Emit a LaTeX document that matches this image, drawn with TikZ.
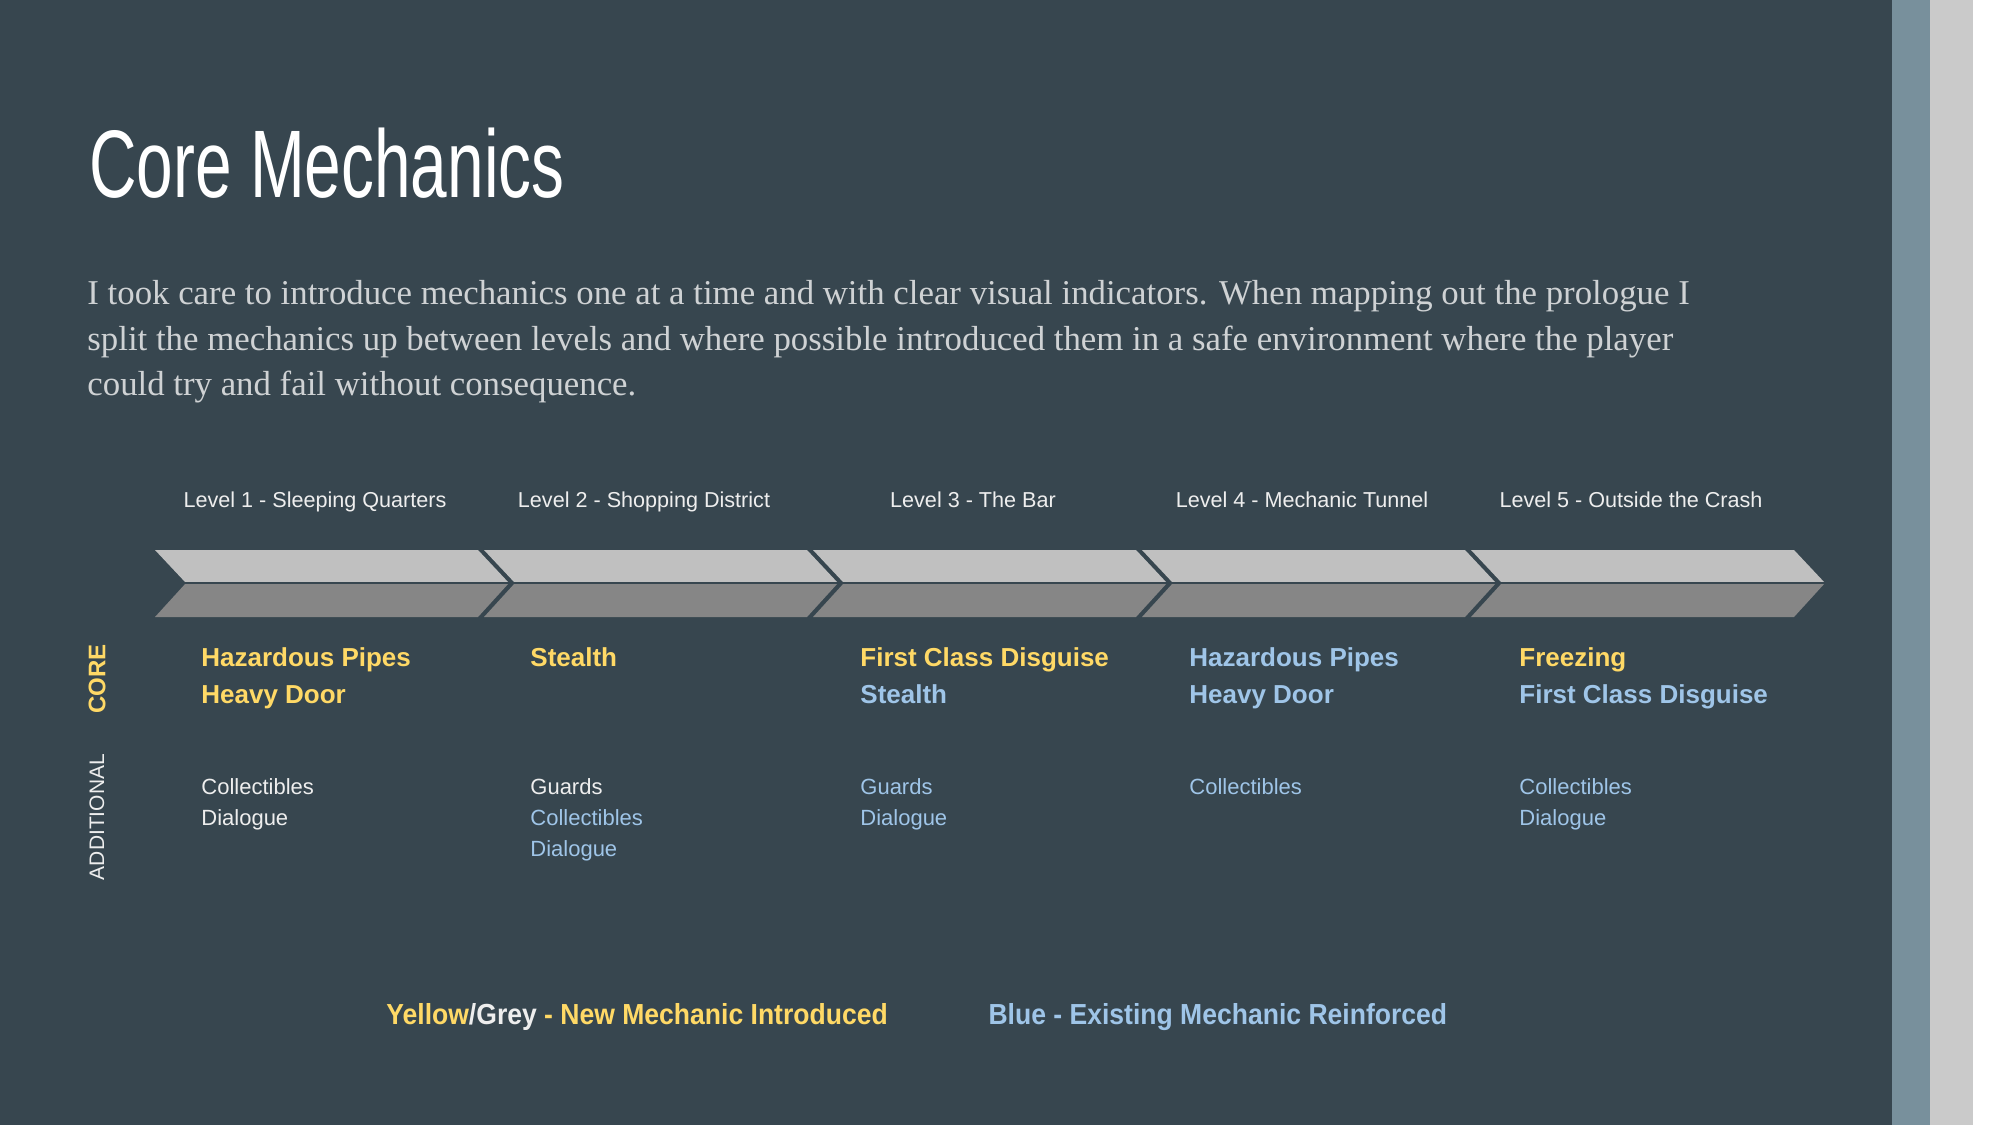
\documentclass[tikz,border=0pt]{standalone}
\usepackage{fontspec}
\setmainfont{Liberation Sans}
\newfontfamily\titlefont[FakeStretch=0.685]{Liberation Sans}
\newfontfamily\bodyfont{Liberation Serif}
\newfontfamily\legendfont[FakeStretch=0.915]{Liberation Sans}
\usetikzlibrary{positioning}

\definecolor{slate}{HTML}{37464F}
\definecolor{stripblue}{HTML}{78909C}
\definecolor{stripgrey}{HTML}{CACACA}
\definecolor{chevtop}{HTML}{C0C0C0}
\definecolor{chevbot}{HTML}{868686}
\definecolor{newyellow}{HTML}{FFD966}
\definecolor{oldblue}{HTML}{9FC5E8}
\definecolor{textgrey}{HTML}{EEEEEE}
\definecolor{bodygrey}{HTML}{CFD2D4}

\begin{document}
\begin{tikzpicture}[x=0.5pt,y=-0.5pt,
    levellabel/.style={text=textgrey,inner sep=0,anchor=base,font=\fontsize{10.8}{13}\selectfont},
    corelist/.style={text=newyellow,inner sep=0,anchor=north west,align=left,font=\fontsize{13}{18.5}\selectfont\bfseries},
    extralist/.style={text=textgrey,inner sep=0,anchor=north west,align=left,font=\fontsize{11}{15.5}\selectfont},
    sidelabel/.style={rotate=90,inner sep=0}]
  \useasboundingbox (0,0) rectangle (2000,1125);
  % slide background and the two strips at the right edge
  \fill[white] (0,0) rectangle (2000,1125);
  \fill[slate] (0,0) rectangle (1892,1125);
  \fill[stripblue] (1892,0) rectangle (1930,1125);
  \fill[stripgrey] (1930,0) rectangle (1973,1125);

  \node[text=white,inner sep=0,anchor=base west,font=\titlefont\fontsize{48}{50}\selectfont] (title) at (89,197) {Core Mechanics};
  \node[text=bodygrey,inner sep=0,anchor=north west,align=left,font=\bodyfont\fontsize{17.4}{22.75}\selectfont] (intro) at (87,280)
    {I took care to introduce mechanics one at a time and with clear visual indicators. When mapping out the prologue I\\
     split the mechanics up between levels and where possible introduced them in a safe environment where the player\\
     could try and fail without consequence.};

  % timeline: five chevrons, light upper half and dark lower half
  \foreach \i in {0,...,4} {
    \pgfmathsetmacro{\xa}{155+329*\i}
    \pgfmathsetmacro{\xb}{\xa+323}
    \fill[chevtop] (\xa,550) -- (\xb,550) -- (\xb+31,583) -- (\xa+31,583) -- cycle;
    \fill[chevbot] (\xa+31,583) -- (\xb+31,583) -- (\xb,617) -- (\xa,617) -- cycle;
  }
  \draw[slate,line width=0.8pt] (150,583) -- (1830,583);

  \foreach \i/\name in {1/Sleeping Quarters,2/Shopping District,3/The Bar,4/Mechanic Tunnel,5/Outside the Crash}
    \node[levellabel] (level\i) at (-14+329*\i,507) {Level \i{} - \name};

  \node[sidelabel,text=newyellow,font=\fontsize{12}{14}\selectfont\bfseries] (corelabel) at (97,679) {CORE};
  \node[sidelabel,text=textgrey,font=\fontsize{10.5}{12}\selectfont] (extralabel) at (97,817) {ADDITIONAL};

  % core mechanics per level
  \node[corelist] (core1) at (201,647) {Hazardous Pipes\\Heavy Door};
  \node[corelist] (core2) at (530,647) {Stealth};
  \node[corelist] (core3) at (860,647) {First Class Disguise\\\textcolor{oldblue}{Stealth}};
  \node[corelist,text=oldblue] (core4) at (1189,647) {Hazardous Pipes\\Heavy Door};
  \node[corelist] (core5) at (1519,647) {Freezing\\\textcolor{oldblue}{First Class Disguise}};

  % additional mechanics per level
  \node[extralist] (extra1) at (201,778) {Collectibles\\Dialogue};
  \node[extralist] (extra2) at (530,778) {Guards\\\textcolor{oldblue}{Collectibles}\\\textcolor{oldblue}{Dialogue}};
  \node[extralist,text=oldblue] (extra3) at (860,778) {Guards\\Dialogue};
  \node[extralist,text=oldblue] (extra4) at (1189,778) {Collectibles};
  \node[extralist,text=oldblue] (extra5) at (1519,778) {Collectibles\\Dialogue};

  % key
  \node[text=newyellow,inner sep=0,anchor=base west,font=\legendfont\fontsize{14.5}{16}\selectfont\bfseries] (keynew) at (386,1024)
    {Yellow\textcolor{textgrey}{/Grey} - New Mechanic Introduced};
  \node[text=oldblue,inner sep=0,font=\legendfont\fontsize{14.5}{16}\selectfont\bfseries,right=50pt of keynew.base east,anchor=base west] (keyold)
    {Blue - Existing Mechanic Reinforced};
\end{tikzpicture}
\end{document}
